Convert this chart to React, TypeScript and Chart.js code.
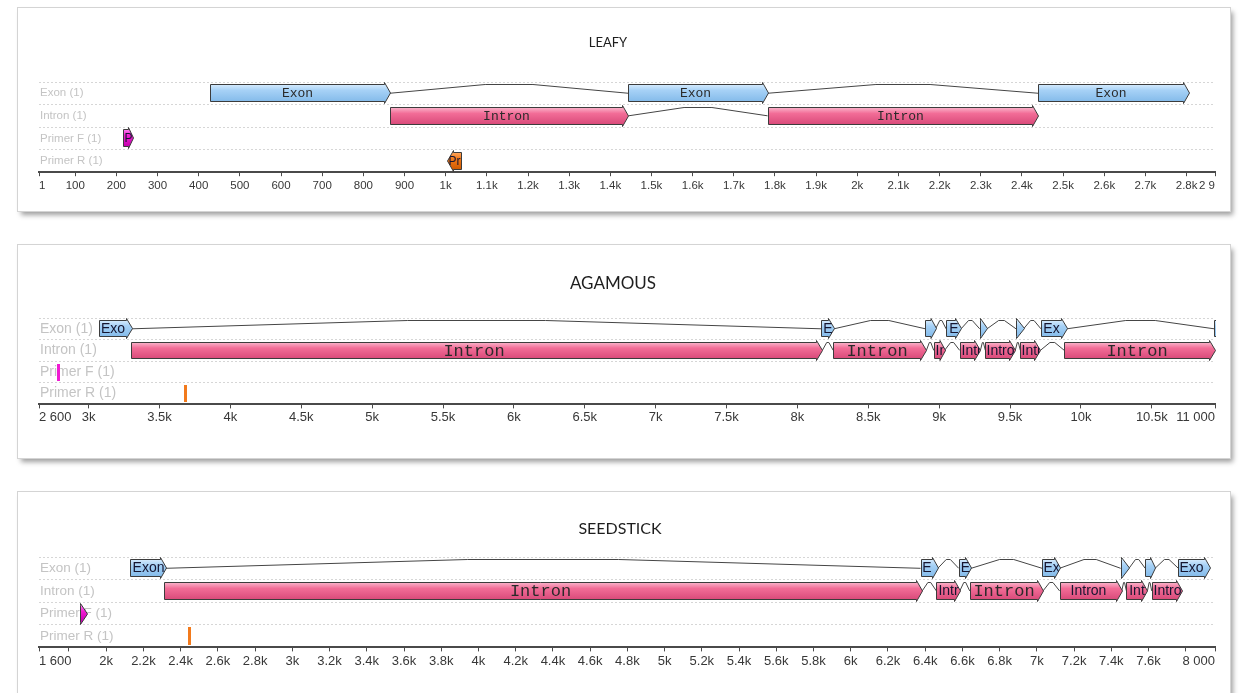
import React, { useEffect, useRef } from 'react';
import { Chart, registerables } from 'chart.js';

Chart.register(...registerables);

const ROW_LABELS = ['Exon (1)', 'Intron (1)', 'Primer F (1)', 'Primer R (1)'];

// ---------- LEAFY ----------
const leafyExons = [[427, 864], [1444, 1782], [2440, 2806]];
const leafyExonLabels = ['Exon', 'Exon', 'Exon'];
const leafyIntrons = [[864, 1444], [1782, 2440]];
const leafyIntronLabels = ['Intron', 'Intron'];
const leafyPrimerF = [[216, 240]];
const leafyPrimerFLabels = ['P'];
const leafyPrimerR = [[1004, 1038]];
const leafyPrimerRLabels = ['Pr'];
const leafyRange = [12, 2869];
const leafyTickValues = [12, 100, 200, 300, 400, 500, 600, 700, 800, 900, 1000, 1100, 1200, 1300, 1400, 1500, 1600, 1700, 1800, 1900, 2000, 2100, 2200, 2300, 2400, 2500, 2600, 2700, 2800, 2869];
const leafyTickLabels = ['1', '100', '200', '300', '400', '500', '600', '700', '800', '900', '1k', '1.1k', '1.2k', '1.3k', '1.4k', '1.5k', '1.6k', '1.7k', '1.8k', '1.9k', '2k', '2.1k', '2.2k', '2.3k', '2.4k', '2.5k', '2.6k', '2.7k', '2.8k', '2 9'];

// ---------- AGAMOUS ----------
const agExons = [[3075, 3305], [8169, 8258], [8903, 8975], [9049, 9155], [9286, 9338], [9542, 9596], [9718, 9901], [10940, 11000]];
const agExonLabels = ['Exo', 'E', '', 'E', '', '', 'Ex', ''];
const agIntrons = [[3300, 8176], [8253, 8910], [8962, 9038], [9145, 9291], [9326, 9537], [9573, 9714], [9883, 10944]];
const agIntronLabels = ['Intron', 'Intron', 'In', 'Intr', 'Intro', 'Intr', 'Intron'];
const agPrimerF = [[2775, 2795]];
const agPrimerFLabels = [''];
const agPrimerR = [[3670, 3690]];
const agPrimerRLabels = [''];
const agRange = [2650, 10946];
const agTickValues = [2650, 3000, 3500, 4000, 4500, 5000, 5500, 6000, 6500, 7000, 7500, 8000, 8500, 9000, 9500, 10000, 10500, 10946];
const agTickLabels = ['2 600', '3k', '3.5k', '4k', '4.5k', '5k', '5.5k', '6k', '6.5k', '7k', '7.5k', '8k', '8.5k', '9k', '9.5k', '10k', '10.5k', '11 000'];

// ---------- SEEDSTICK ----------
const ssExons = [[2129, 2320], [6375, 6468], [6580, 6647], [7028, 7122], [7450, 7495], [7582, 7635], [7760, 7931]];
const ssExonLabels = ['Exon', 'E', 'E', 'Ex', '', '', 'Exo'];
const ssIntrons = [[2313, 6384], [6460, 6586], [6639, 7033], [7122, 7456], [7481, 7594], [7617, 7778]];
const ssIntronLabels = ['Intron', 'Intr', 'Intron', 'Intron', 'Int', 'Intro'];
const ssPrimerF = [[1861, 1896]];
const ssPrimerFLabels = [''];
const ssPrimerR = [[2442, 2456]];
const ssPrimerRLabels = [''];
const ssRange = [1639, 7957];
const ssTickValues = [1639, 1800, 2000, 2200, 2400, 2600, 2800, 3000, 3200, 3400, 3600, 3800, 4000, 4200, 4400, 4600, 4800, 5000, 5200, 5400, 5600, 5800, 6000, 6200, 6400, 6600, 6800, 7000, 7200, 7400, 7600, 7800, 7957];
const ssTickLabels = ['1 600', '', '2k', '2.2k', '2.4k', '2.6k', '2.8k', '3k', '3.2k', '3.4k', '3.6k', '3.8k', '4k', '4.2k', '4.4k', '4.6k', '4.8k', '5k', '5.2k', '5.4k', '5.6k', '5.8k', '6k', '6.2k', '6.4k', '6.6k', '6.8k', '7k', '7.2k', '7.4k', '7.6k', '', '8 000'];

const COLORS: Record<string, string[]> = {
  exon: ['#d6ebfd', '#a6d1f6', '#84bbea'],
  intron: ['#fab4cb', '#f26d97', '#d94a7a'],
  primerF: ['#ff80f0', '#f01cd2', '#c400ae'],
  primerR: ['#ffa75e', '#f27a1c', '#cf5a00'],
};
const STROKE = '#3c3c3c';
const SANS = '"Liberation Sans", Arial, sans-serif';
const MONO = '"Courier New", "Liberation Mono", monospace';

function featurePath(ctx: any, left: number, right: number, top: number, bot: number, dir: number) {
  const w = right - left;
  const tip = w <= 8 ? w : Math.min(6, w * 0.5);
  const barb = 2;
  const yc = (top + bot) / 2;
  ctx.beginPath();
  if (dir >= 0) {
    const b = right - tip;
    ctx.moveTo(left, top);
    ctx.lineTo(b, top);
    ctx.lineTo(b, top - barb);
    ctx.lineTo(right, yc);
    ctx.lineTo(b, bot + barb);
    ctx.lineTo(b, bot);
    ctx.lineTo(left, bot);
  } else {
    const b = left + tip;
    ctx.moveTo(right, top);
    ctx.lineTo(b, top);
    ctx.lineTo(b, top - barb);
    ctx.lineTo(left, yc);
    ctx.lineTo(b, bot + barb);
    ctx.lineTo(b, bot);
    ctx.lineTo(right, bot);
  }
  ctx.closePath();
  return tip;
}

const genePlugin = {
  id: 'geneMap',
  afterDatasetsDraw(chart: any) {
    const opts = chart.options.plugins.geneMap;
    const { ctx, chartArea } = chart;
    ctx.save();
    ctx.beginPath();
    ctx.rect(chartArea.left, 0, chartArea.right - chartArea.left + 1, chart.height);
    ctx.clip();

    const boxes = (di: number) =>
      chart.getDatasetMeta(di).data.map((el: any) => {
        const p = el.getProps(['x', 'base', 'y', 'height'], true);
        return { left: Math.min(p.x, p.base), right: Math.max(p.x, p.base), y: p.y, h: p.height };
      });

    // splice connectors
    chart.data.datasets.forEach((ds: any, di: number) => {
      if (!ds.connect) return;
      const bs = boxes(di);
      ctx.strokeStyle = '#454545';
      ctx.lineWidth = 1;
      for (let i = 0; i < bs.length - 1; i++) {
        const x1 = bs[i].right;
        const x2 = bs[i + 1].left;
        if (x2 - x1 < 1) continue;
        const yc = bs[i].y;
        const peak = Math.round(yc - bs[i].h / 2) + 0.5;
        const xm = (x1 + x2) / 2;
        const f = (x2 - x1) * 0.1;
        ctx.beginPath();
        ctx.moveTo(x1, yc);
        ctx.lineTo(xm - f, peak);
        ctx.lineTo(xm + f, peak);
        ctx.lineTo(x2, yc);
        ctx.stroke();
      }
    });

    // features
    chart.data.datasets.forEach((ds: any, di: number) => {
      const bs = boxes(di);
      bs.forEach((b: any, i: number) => {
        const c = ds.featureColors;
        const dir = ds.featureDir;
        if (b.right - b.left < 5) {
          // very short feature: a thin solid mark
          const l = Math.round(b.left);
          const wThin = Math.max(2, Math.round(b.right - b.left));
          ctx.fillStyle = c[1];
          ctx.fillRect(l, Math.round(b.y - b.h / 2), wThin, Math.round(b.h));
          return;
        }
        const left = Math.round(b.left) + 0.5;
        const right = Math.max(Math.round(b.right) + 0.5, left + 2);
        const top = Math.round(b.y - b.h / 2) + 0.5;
        const bot = Math.round(b.y + b.h / 2) - 0.5;
        const g = ctx.createLinearGradient(0, top, 0, bot);
        g.addColorStop(0, c[0]);
        g.addColorStop(0.35, c[1]);
        g.addColorStop(1, c[2]);
        const tip = featurePath(ctx, left, right, top, bot, dir);
        ctx.fillStyle = g;
        ctx.fill();
        ctx.strokeStyle = STROKE;
        ctx.lineWidth = 1;
        ctx.stroke();

        const label = ds.featureLabels[i];
        if (label) {
          const w = right - left;
          ctx.save();
          featurePath(ctx, left, right, top, bot, dir);
          ctx.clip();
          const mono = w >= 70;
          ctx.font = mono ? `${opts.monoSize}px ${MONO}` : `${opts.sansSize}px ${SANS}`;
          ctx.fillStyle = mono ? '#2a2a2a' : '#151530';
          ctx.textBaseline = 'middle';
          const tw = ctx.measureText(label).width;
          const bodyL = dir >= 0 ? left : left + tip;
          const bodyR = dir >= 0 ? right - tip : right;
          const yc = (top + bot) / 2 + 0.5;
          if (tw > w - 2) {
            ctx.textAlign = 'left';
            ctx.fillText(label, dir >= 0 ? left + 1 : left + tip * 0.5, yc);
          } else {
            ctx.textAlign = 'center';
            const cx = tw <= bodyR - bodyL ? (bodyL + bodyR) / 2 : (left + right) / 2;
            ctx.fillText(label, cx, yc);
          }
          ctx.restore();
        }
      });
    });
    ctx.restore();
  },
};

interface GeneSpec {
  exons: number[][]; exonLabels: string[];
  introns: number[][]; intronLabels: string[];
  primerF: number[][]; primerFLabels: string[];
  primerR: number[][]; primerRLabels: string[];
  range: number[]; tickValues: number[]; tickLabels: string[];
}

interface PanelStyle {
  left: number; top: number; width: number; height: number;
  title: string; titleX: number; titleY: number; titleSize: number;
  pad: { left: number; right: number; top: number; bottom: number };
  barThickness: number; monoSize: number; sansSize: number;
  rowFont: number; tickFont: number; tickPad: number;
}

function makeConfig(g: GeneSpec, s: PanelStyle): any {
  const ds = (segs: number[][], labels: string[], row: string, colors: string[], dir: number, connect: boolean) => ({
    label: row,
    data: segs.map((seg) => ({ y: row, x: [seg[0], seg[1]] })),
    backgroundColor: 'rgba(0,0,0,0)',
    borderWidth: 0,
    grouped: false,
    barThickness: s.barThickness,
    featureLabels: labels,
    featureColors: colors,
    featureDir: dir,
    connect,
  });
  return {
    type: 'bar',
    data: {
      labels: ROW_LABELS,
      datasets: [
        ds(g.exons, g.exonLabels, ROW_LABELS[0], COLORS.exon, 1, true),
        ds(g.introns, g.intronLabels, ROW_LABELS[1], COLORS.intron, 1, true),
        ds(g.primerF, g.primerFLabels, ROW_LABELS[2], COLORS.primerF, 1, false),
        ds(g.primerR, g.primerRLabels, ROW_LABELS[3], COLORS.primerR, -1, false),
      ],
    },
    options: {
      indexAxis: 'y',
      responsive: false,
      animation: false,
      events: [],
      layout: { padding: s.pad },
      plugins: {
        legend: { display: false },
        tooltip: { enabled: false },
        title: { display: false },
        geneMap: { monoSize: s.monoSize, sansSize: s.sansSize },
      },
      scales: {
        x: {
          type: 'linear',
          min: g.range[0],
          max: g.range[1],
          afterBuildTicks: (axis: any) => {
            axis.ticks = g.tickValues.map((v) => ({ value: v }));
          },
          ticks: {
            autoSkip: false,
            maxRotation: 0,
            minRotation: 0,
            align: 'inner',
            padding: s.tickPad,
            color: '#383838',
            font: { family: SANS, size: s.tickFont },
            callback: (_v: any, i: number) => g.tickLabels[i],
          },
          grid: { display: true, drawOnChartArea: false, drawTicks: true, tickLength: 4, tickColor: '#4a4a4a', tickWidth: 1 },
          border: { display: true, color: '#4a4a4a', width: 2 },
        },
        y: {
          type: 'category',
          labels: ROW_LABELS,
          offset: true,
          grid: { display: true, offset: true, drawTicks: false, color: '#d6d6d6', lineWidth: 1 },
          border: { display: false, dash: [2, 2] },
          ticks: { mirror: true, padding: 1, color: '#c4c4c4', font: { family: SANS, size: s.rowFont } },
        },
      },
    },
    plugins: [genePlugin],
  };
}

const leafyGene: GeneSpec = {
  exons: leafyExons, exonLabels: leafyExonLabels, introns: leafyIntrons, intronLabels: leafyIntronLabels,
  primerF: leafyPrimerF, primerFLabels: leafyPrimerFLabels, primerR: leafyPrimerR, primerRLabels: leafyPrimerRLabels,
  range: leafyRange, tickValues: leafyTickValues, tickLabels: leafyTickLabels,
};
const agGene: GeneSpec = {
  exons: agExons, exonLabels: agExonLabels, introns: agIntrons, intronLabels: agIntronLabels,
  primerF: agPrimerF, primerFLabels: agPrimerFLabels, primerR: agPrimerR, primerRLabels: agPrimerRLabels,
  range: agRange, tickValues: agTickValues, tickLabels: agTickLabels,
};
const ssGene: GeneSpec = {
  exons: ssExons, exonLabels: ssExonLabels, introns: ssIntrons, intronLabels: ssIntronLabels,
  primerF: ssPrimerF, primerFLabels: ssPrimerFLabels, primerR: ssPrimerR, primerRLabels: ssPrimerRLabels,
  range: ssRange, tickValues: ssTickValues, tickLabels: ssTickLabels,
};

const leafyStyle: PanelStyle = {
  left: 18, top: 8, width: 1212, height: 203,
  title: 'LEAFY', titleX: 590, titleY: 34, titleSize: 13,
  pad: { left: 19, right: 15, top: 74, bottom: 15 },
  barThickness: 18, monoSize: 13, sansSize: 12, rowFont: 11.5, tickFont: 11.5, tickPad: 3,
};
const agStyle: PanelStyle = {
  left: 18, top: 245, width: 1212, height: 213,
  title: 'AGAMOUS', titleX: 595, titleY: 38, titleSize: 17,
  pad: { left: 19, right: 15, top: 73, bottom: 32 },
  barThickness: 17, monoSize: 17, sansSize: 14, rowFont: 14, tickFont: 13, tickPad: 1,
};
const ssStyle: PanelStyle = {
  left: 18, top: 492, width: 1212, height: 210,
  title: 'SEEDSTICK', titleX: 602, titleY: 36, titleSize: 16,
  pad: { left: 19, right: 15, top: 65, bottom: 31 },
  barThickness: 18, monoSize: 17, sansSize: 14, rowFont: 13.5, tickFont: 13, tickPad: 2,
};

function GenePanel({ gene, s }: { gene: GeneSpec; s: PanelStyle }) {
  const ref = useRef<HTMLCanvasElement>(null);
  useEffect(() => {
    const chart = new Chart(ref.current as HTMLCanvasElement, makeConfig(gene, s));
    return () => chart.destroy();
  }, [gene, s]);
  return (
    <div
      style={{
        position: 'absolute', left: s.left, top: s.top, width: s.width, height: s.height,
        background: '#ffffff',
        boxShadow: '0 0 0 1px #d4d4d4, 3px 4px 5px rgba(0,0,0,0.38)',
      }}
    >
      <canvas
        ref={ref}
        width={s.width}
        height={s.height}
        style={{ position: 'absolute', left: 0, top: 0, width: s.width, height: s.height }}
      />
      <div
        style={{
          position: 'absolute', left: s.titleX - 150, top: s.titleY - 10, width: 300, height: 20,
          lineHeight: '20px', textAlign: 'center', color: '#1e1e1e',
          fontFamily: 'Lato, "Liberation Sans", sans-serif', fontSize: s.titleSize,
        }}
      >
        {s.title}
      </div>
    </div>
  );
}

export default function App() {
  return (
    <div style={{ position: 'absolute', left: 0, top: 0, width: 1240, height: 693, overflow: 'hidden', background: '#ffffff' }}>
      <GenePanel gene={leafyGene} s={leafyStyle} />
      <GenePanel gene={agGene} s={agStyle} />
      <GenePanel gene={ssGene} s={ssStyle} />
    </div>
  );
}
